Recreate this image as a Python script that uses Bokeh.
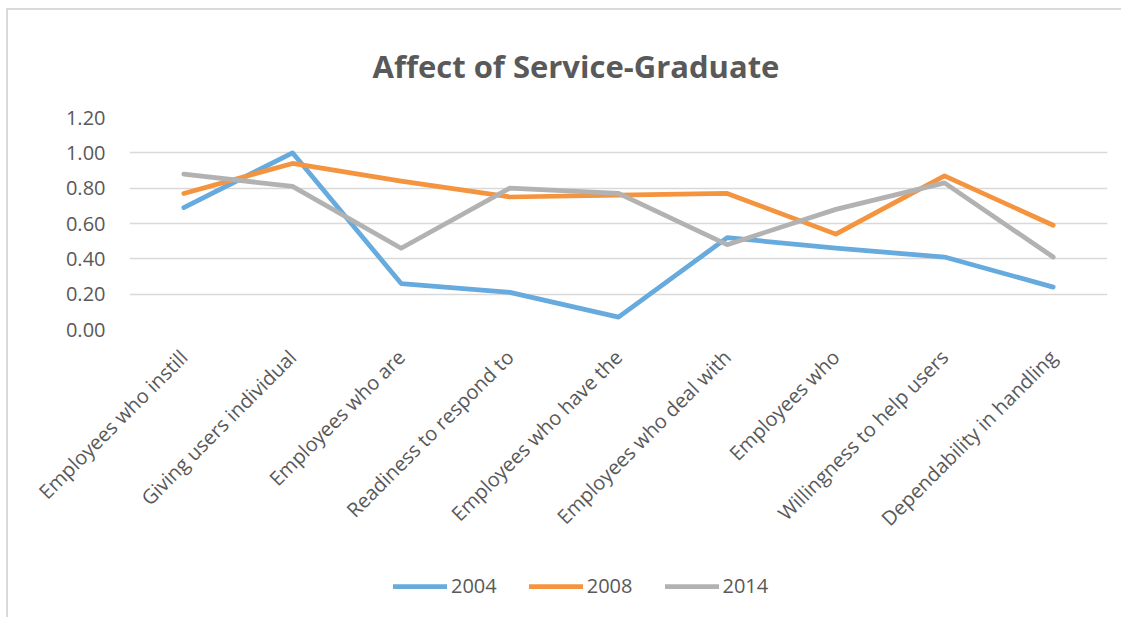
from bokeh.plotting import figure
from bokeh.layouts import column
from bokeh.models import Range1d, FactorRange, Legend, LegendItem, FixedTicker, PrintfTickFormatter, Title
from bokeh.embed import file_html
from bokeh.resources import INLINE
import math

categories = [
    "Employees who instill",
    "Giving users individual",
    "Employees who are",
    "Readiness to respond to",
    "Employees who have the",
    "Employees who deal with",
    "Employees who",
    "Willingness to help users",
    "Dependability in handling",
]
series_names = ["2004", "2008", "2014"]
v2004 = [0.69, 1.00, 0.26, 0.21, 0.07, 0.52, 0.46, 0.41, 0.24]
v2008 = [0.77, 0.94, 0.84, 0.75, 0.76, 0.77, 0.54, 0.87, 0.59]
v2014 = [0.88, 0.81, 0.46, 0.80, 0.77, 0.48, 0.68, 0.83, 0.41]
y_ticks = [0.0, 0.2, 0.4, 0.6, 0.8, 1.0, 1.2]

colors = ["#67AADD", "#F4943F", "#B2B2B2"]
TXT = "#595959"
FONT = "Open Sans"
series = [v2004, v2008, v2014]

p = figure(
    width=1113, height=547,
    x_range=FactorRange(*categories),
    y_range=Range1d(0, 1.2),
    output_backend="svg", toolbar_location=None,
    min_border_left=121, min_border_right=14,
    min_border_top=107, min_border_bottom=228,
)
p.outline_line_color = None

title = Title(text="Affect of Service-Graduate", align="left", offset=243,
              text_font=FONT, text_font_size="31px", text_font_style="bold",
              text_color=TXT, standoff=62)
p.add_layout(title, "above")

for vals, c in zip(series, colors):
    p.line(x=categories, y=vals, line_color=c, line_width=4.75,
           line_cap="round", line_join="round")

p.yaxis.ticker = FixedTicker(ticks=y_ticks)
p.yaxis.formatter = PrintfTickFormatter(format="%.2f")
for ax in (p.xaxis[0], p.yaxis[0]):
    ax.axis_line_color = None
    ax.major_tick_line_color = None
    ax.minor_tick_line_color = None
    ax.major_label_text_font = FONT
    ax.major_label_text_color = TXT
p.yaxis.major_label_text_font_size = "20px"
p.yaxis.major_label_standoff = 18
p.xaxis.major_label_text_font_size = "20px"
p.xaxis.major_label_orientation = math.pi / 4
p.xaxis.major_label_standoff = 18

p.xgrid.grid_line_color = None
p.ygrid.grid_line_color = "#D9D9D9"
p.ygrid.grid_line_width = 1.5

# legend strip below the chart (its lines lie outside its own view range)
lf = figure(
    width=1113, height=60,
    x_range=FactorRange(*categories), y_range=Range1d(10, 11),
    x_axis_type=None, y_axis_type=None,
    output_backend="svg", toolbar_location=None,
    min_border=0,
)
lf.outline_line_color = None
lf.xgrid.grid_line_color = None
lf.ygrid.grid_line_color = None
legend_renderers = [
    lf.line(x=categories, y=vals, line_color=c, line_width=4.75, line_cap="round")
    for vals, c in zip(series, colors)
]
legend = Legend(
    items=[LegendItem(label=n, renderers=[r]) for n, r in zip(series_names, legend_renderers)],
    orientation="horizontal", location=(264, 18),
    glyph_width=54, glyph_height=20, label_height=20, label_standoff=4,
    spacing=32, padding=0, margin=0,
    border_line_color=None, background_fill_alpha=0,
    label_text_font=FONT, label_text_font_size="20px", label_text_color=TXT,
)
lf.add_layout(legend, "center")

layout = column(p, lf, spacing=0)
layout.styles = {"border-left": "2px solid #d9d9d9", "border-top": "2px solid #d9d9d9",
                 "margin-left": "6px", "margin-top": "8px"}

open("out.html", "w").write(file_html(layout, INLINE))
